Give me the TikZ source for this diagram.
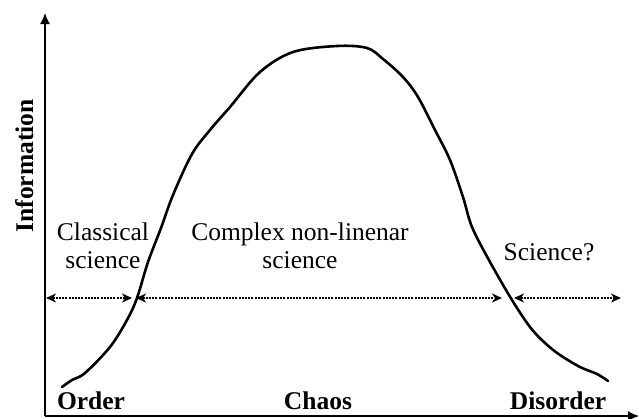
\documentclass[tikz,border=0pt]{standalone}
\usepackage{fontspec}
\setmainfont{Liberation Serif}
\usetikzlibrary{arrows.meta}
\tikzset{
  lbl/.style={font=\fontsize{25.5}{28}\selectfont, inner sep=0pt},
  blbl/.style={font=\fontsize{25.5}{28}\selectfont\bfseries, inner sep=0pt},
  axis/.style={line width=1.5pt, -{Latex[length=11pt,width=10pt]}},
  region/.style={line width=1.4pt, dash pattern=on 2pt off 1.2pt,
     {Stealth[length=10pt,width=9pt,inset=3pt]}-{Stealth[length=10pt,width=9pt,inset=3pt]}},
  curve/.style={line width=2.6pt, line cap=round, line join=round}
}
\begin{document}
\begin{tikzpicture}[x=1pt,y=-1pt]
\useasboundingbox (0,0) rectangle (639,418);
% axes
\coordinate (O) at (45,416);
\coordinate (ytop) at (45,13);
\coordinate (xend) at (639,416);
\draw[axis] (O) -- (ytop);
\draw[axis] (O) -- (xend);
% curve
\draw[curve] plot[smooth, tension=0.55] coordinates {
 (62,387) (72,380) (85,373) (110,347) (127,320) (137,298) (148,262) (161,228)
 (173,195) (192,154) (210,130) (230,107) (260,72) (293,52) (337,46) (367,48)
 (383,59) (403,77) (418,97) (435,130) (450,160) (463,197) (472,227) (490,262)
 (512,300) (530,327) (545,343) (560,355) (580,367) (597,374) (608,381)};
% region arrows
\coordinate (a1) at (46,298);
\coordinate (a2) at (132,298);
\coordinate (a3) at (136,298);
\coordinate (a4) at (502,298);
\coordinate (a5) at (514,298);
\coordinate (a6) at (621,298);
\draw[region] (a1) -- (a2);
\draw[region] (a3) -- (a4);
\draw[region] (a5) -- (a6);
% labels
\node[blbl, rotate=90, anchor=base] (info) at (33,166) {Information};
\node[blbl, anchor=base] (order) at (91,409) {Order};
\node[blbl, anchor=base] (chaos) at (318,409) {Chaos};
\node[blbl, anchor=base] (disorder) at (558,409) {Disorder};
\node[lbl, anchor=base, align=center] (classical) at (103,268) {Classical\\science};
\node[lbl, anchor=base, align=center] (complex) at (300,268) {Complex non-linenar\\science};
\node[lbl, anchor=base] (sciq) at (549,260) {Science?};
\end{tikzpicture}
\end{document}
